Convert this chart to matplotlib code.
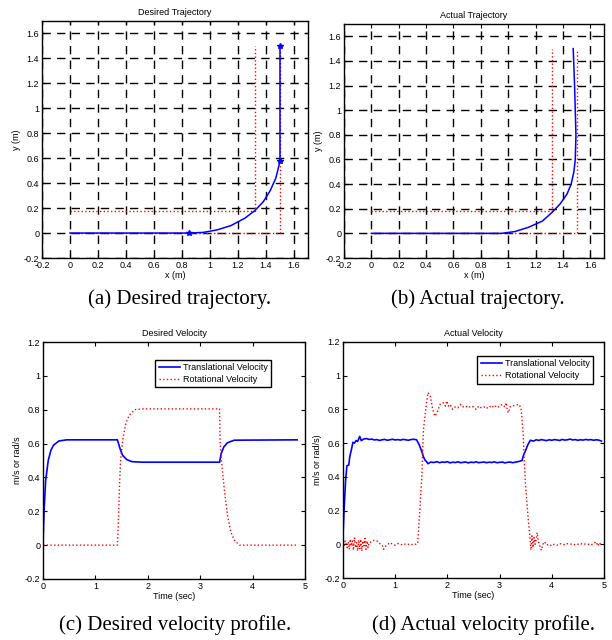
import matplotlib
matplotlib.use('Agg')
import matplotlib.pyplot as plt
from matplotlib.ticker import FuncFormatter
import numpy as np

plt.rcParams['font.family'] = ['Liberation Sans', 'DejaVu Sans']

# ---- trajectory data (m) ----
des_x = [0, 0.85, 0.95, 1.05, 1.15, 1.25, 1.32, 1.38, 1.43, 1.47, 1.5, 1.5]
des_y = [0, 0, 0.005, 0.025, 0.06, 0.12, 0.18, 0.25, 0.34, 0.44, 0.575, 1.5]
des_mark_x = [0.85, 1.5, 1.5]
des_mark_y = [0, 0.575, 1.5]

act_x = [0, 0.95, 1.05, 1.15, 1.25, 1.32, 1.38, 1.43, 1.46, 1.48, 1.49, 1.495, 1.49, 1.485, 1.475]
act_y = [0, 0, 0.015, 0.05, 0.1, 0.17, 0.24, 0.32, 0.4, 0.5, 0.6, 0.8, 1.0, 1.2, 1.5]

inner_x = [0, 1.32, 1.32]
inner_y = [0.18, 0.18, 1.5]
outer_x = [0, 1.5, 1.5]
outer_y = [0, 0, 1.5]

# ---- desired velocity ----
dv_t = [0, 0.02, 0.05, 0.1, 0.15, 0.2, 0.3, 0.45, 1.42, 1.47, 1.52, 1.6, 1.7, 1.9,
        3.37, 3.4, 3.45, 3.52, 3.65, 4.85]
dv_v = [0, 0.2, 0.38, 0.5, 0.56, 0.59, 0.615, 0.622, 0.622, 0.57, 0.53, 0.505, 0.493, 0.49,
        0.49, 0.54, 0.58, 0.605, 0.62, 0.622]
dw_t = [0, 1.42, 1.44, 1.46, 1.48, 1.52, 1.58, 1.65, 1.75, 1.9, 3.37, 3.38, 3.42, 3.47,
        3.52, 3.58, 3.65, 3.75, 4.85]
dw_w = [0, 0, 0.15, 0.35, 0.5, 0.62, 0.72, 0.77, 0.8, 0.805, 0.805, 0.6, 0.45, 0.3,
        0.18, 0.08, 0.03, 0.0, 0.0]

# ---- actual velocity ----
av_t = [0, 0.02, 0.05, 0.075, 0.11, 0.13, 0.16, 0.19, 0.22, 0.25, 0.28, 0.32, 0.35, 0.4,
        0.45, 0.5, 0.55, 0.6, 0.65, 0.7, 0.75, 0.8, 0.85, 0.9, 0.95, 1.0, 1.05, 1.1, 1.15,
        1.2, 1.25, 1.3, 1.35, 1.41, 1.46, 1.51, 1.54, 1.57, 1.6, 1.63, 1.68, 1.73, 1.8,
        1.85, 1.9, 1.95, 2.0, 2.05, 2.1, 2.15, 2.2, 2.25, 2.3, 2.35, 2.4, 2.45, 2.5, 2.55,
        2.6, 2.65, 2.7, 2.75, 2.8, 2.85, 2.9, 2.95, 3.0, 3.05, 3.1, 3.15, 3.2, 3.25, 3.3,
        3.35, 3.39, 3.43, 3.46, 3.49, 3.54, 3.59, 3.65, 3.7, 3.75, 3.8, 3.85, 3.9, 3.95,
        4.0, 4.05, 4.1, 4.15, 4.2, 4.25, 4.3, 4.35, 4.4, 4.45, 4.5, 4.55, 4.6, 4.65, 4.7,
        4.75, 4.8, 4.85, 4.9, 4.95]
av_v = [0.055, 0.2, 0.38, 0.466, 0.47, 0.52, 0.56, 0.605, 0.6, 0.615, 0.61, 0.64, 0.615,
        0.625, 0.627, 0.622, 0.624, 0.619, 0.621, 0.616, 0.62, 0.622, 0.617, 0.62, 0.623,
        0.619, 0.621, 0.618, 0.622, 0.62, 0.617, 0.621, 0.623, 0.62, 0.59, 0.55, 0.52, 0.5,
        0.49, 0.478, 0.488, 0.485, 0.49, 0.484, 0.488, 0.486, 0.49, 0.483, 0.487, 0.485,
        0.489, 0.484, 0.486, 0.488, 0.483, 0.487, 0.485, 0.489, 0.484, 0.486, 0.488, 0.484,
        0.487, 0.485, 0.489, 0.484, 0.486, 0.488, 0.483, 0.486, 0.488, 0.484, 0.487, 0.49,
        0.493, 0.497, 0.53, 0.55, 0.59, 0.617, 0.612, 0.62, 0.616, 0.621, 0.618, 0.615,
        0.62, 0.617, 0.621, 0.619, 0.616, 0.622, 0.618, 0.62, 0.624, 0.619, 0.621, 0.617,
        0.62, 0.618, 0.622, 0.619, 0.621, 0.617, 0.62, 0.618, 0.612]

aw_t = [0.0, 0.02, 0.04, 0.06, 0.08, 0.1, 0.12, 0.14, 0.16, 0.18, 0.2, 0.22, 0.24, 0.26,
        0.28, 0.3, 0.32, 0.34, 0.36, 0.38, 0.4, 0.42, 0.44, 0.46, 0.48, 0.5, 0.55, 0.6,
        0.65, 0.7, 0.75, 0.78, 0.82, 0.86, 0.9, 0.95, 1.0, 1.05, 1.1, 1.15, 1.2, 1.25, 1.3,
        1.35, 1.4, 1.43, 1.475, 1.51, 1.54, 1.57, 1.6, 1.63, 1.67, 1.72, 1.76, 1.8, 1.86,
        1.92, 1.96, 1.99, 2.02, 2.05, 2.1, 2.15, 2.2, 2.25, 2.3, 2.35, 2.4, 2.45, 2.5, 2.55,
        2.6, 2.65, 2.7, 2.75, 2.8, 2.85, 2.9, 2.95, 3.0, 3.05, 3.1, 3.13, 3.15, 3.17, 3.2,
        3.25, 3.3, 3.37, 3.41, 3.45, 3.49, 3.54, 3.58, 3.6, 3.62, 3.64, 3.66, 3.68, 3.7,
        3.72, 3.74, 3.77, 3.8, 3.83, 3.86, 3.9, 3.95, 4.0, 4.05, 4.1, 4.15, 4.2, 4.25, 4.3,
        4.35, 4.4, 4.45, 4.5, 4.55, 4.6, 4.65, 4.7, 4.75, 4.8, 4.85, 4.88, 4.91, 4.95]
aw_w = [0.01, -0.01, 0.02, 0.0, -0.02, 0.015, -0.03, 0.03, -0.01, 0.02, -0.035, 0.04,
        -0.02, 0.01, -0.04, 0.025, -0.03, 0.03, -0.04, 0.02, -0.01, 0.035, -0.03, 0.02,
        -0.02, 0.01, 0.015, 0.025, 0.02, 0.005, -0.005, -0.03, -0.01, 0.0, 0.01, 0.0,
        -0.005, 0.005, 0.0, -0.005, 0.003, 0.0, -0.004, 0.002, 0.0, 0.005, 0.22, 0.4, 0.68,
        0.76, 0.84, 0.9, 0.88, 0.8, 0.76, 0.78, 0.83, 0.84, 0.82, 0.85, 0.82, 0.83, 0.8,
        0.815, 0.81, 0.83, 0.815, 0.82, 0.81, 0.82, 0.815, 0.8, 0.82, 0.81, 0.815, 0.805,
        0.82, 0.81, 0.825, 0.81, 0.82, 0.83, 0.815, 0.84, 0.79, 0.78, 0.815, 0.82, 0.825,
        0.83, 0.81, 0.66, 0.38, 0.18, 0.045, -0.034, 0.05, -0.02, 0.04, 0.0, 0.03, 0.07,
        0.02, -0.01, -0.035, 0.0, 0.015, -0.005, 0.0, -0.01, 0.0, -0.005, 0.005, 0.0,
        -0.003, 0.004, 0.0, 0.003, -0.004, 0.0, 0.005, -0.002, 0.003, 0.0, -0.005, 0.004,
        0.015, -0.01, 0.01, -0.005]

TS = 6.5
fig = plt.figure(figsize=(6.12, 6.40), dpi=100)


def style(ax, xt, yt, xl, yl, title, grid=False):
    ax.set_xticks(xt)
    ax.set_yticks(yt)
    fmt = FuncFormatter(lambda v, p: '%g' % round(v, 2))
    ax.xaxis.set_major_formatter(fmt)
    ax.yaxis.set_major_formatter(fmt)
    ax.tick_params(direction='in', top=True, right=True, length=3, width=0.8,
                   labelsize=TS, pad=2)
    for s in ax.spines.values():
        s.set_linewidth(1.0)
    ax.set_xlabel(xl, fontsize=TS, labelpad=1)
    ax.set_ylabel(yl, fontsize=TS, labelpad=2)
    ax.set_title(title, fontsize=TS, pad=4)
    if grid:
        ax.grid(True, color='black', linestyle=(0, (6, 4.5)), linewidth=1.0)
        ax.set_axisbelow(True)


def add_legend(ax, anchor):
    leg = ax.legend(loc='upper right', bbox_to_anchor=anchor, fontsize=TS,
                    fancybox=False, framealpha=1, edgecolor='black', borderpad=0.35,
                    handlelength=2.4, labelspacing=0.35, borderaxespad=0,
                    handletextpad=0.3)
    leg.get_frame().set_linewidth(1.0)


# (a) desired trajectory
ax = fig.add_axes([42 / 612, 1 - 258 / 640, 266 / 612, 237 / 640])
ax.plot(inner_x, inner_y, ':', color='red', lw=1.0)
ax.plot(outer_x, outer_y, ':', color='red', lw=1.0)
ax.plot(des_x, des_y, '-', color='blue', lw=1.1)
ax.plot(des_mark_x, des_mark_y, '*', color='blue', ms=4)
ax.set_xlim(-0.2, 1.7)
ax.set_ylim(-0.2, 1.7)
style(ax, np.arange(-0.2, 1.61, 0.2), np.arange(-0.2, 1.61, 0.2), 'x (m)', 'y (m)',
      'Desired Trajectory', grid=True)

# (b) actual trajectory
ax = fig.add_axes([344 / 612, 1 - 258 / 640, 260 / 612, 234 / 640])
ax.plot(inner_x, inner_y, ':', color='red', lw=1.0)
ax.plot(outer_x, outer_y, ':', color='red', lw=1.0)
ax.plot(act_x, act_y, '-', color='blue', lw=1.1)
ax.set_xlim(-0.2, 1.7)
ax.set_ylim(-0.2, 1.7)
style(ax, np.arange(-0.2, 1.61, 0.2), np.arange(-0.2, 1.61, 0.2), 'x (m)', 'y (m)',
      'Actual Trajectory', grid=True)

# (c) desired velocity
ax = fig.add_axes([43 / 612, 1 - 579 / 640, 262 / 612, 237 / 640])
ax.plot(dv_t, dv_v, '-', color='blue', lw=1.2, label='Translational Velocity')
ax.plot(dw_t, dw_w, ':', color='red', lw=1.0, label='Rotational Velocity')
ax.set_xlim(0, 5)
ax.set_ylim(-0.2, 1.2)
style(ax, range(0, 6), np.arange(-0.2, 1.21, 0.2), 'Time (sec)', 'm/s or rad/s',
      'Desired Velocity')
add_legend(ax, (0.87, 0.925))

# (d) actual velocity
ax = fig.add_axes([343 / 612, 1 - 578 / 640, 261 / 612, 236 / 640])
ax.plot(av_t, av_v, '-', color='blue', lw=1.2, label='Translational Velocity')
ax.plot(aw_t, aw_w, ':', color='red', lw=1.0, label='Rotational Velocity')
ax.set_xlim(0, 5)
ax.set_ylim(-0.2, 1.2)
style(ax, range(0, 6), np.arange(-0.2, 1.21, 0.2), 'Time (sec)', 'm/s or rad/s)',
      'Actual Velocity')
add_legend(ax, (0.958, 0.94))

# captions
cap = dict(fontsize=15, family='Liberation Serif', ha='center', va='center')
fig.text(180 / 612, 1 - 299 / 640, '(a) Desired trajectory.', **cap)
fig.text(478 / 612, 1 - 299 / 640, '(b) Actual trajectory.', **cap)
fig.text(175 / 612, 1 - 625 / 640, '(c) Desired velocity profile.', **cap)
fig.text(483 / 612, 1 - 625 / 640, '(d) Actual velocity profile.', **cap)

fig.savefig('out.png', dpi=100)
